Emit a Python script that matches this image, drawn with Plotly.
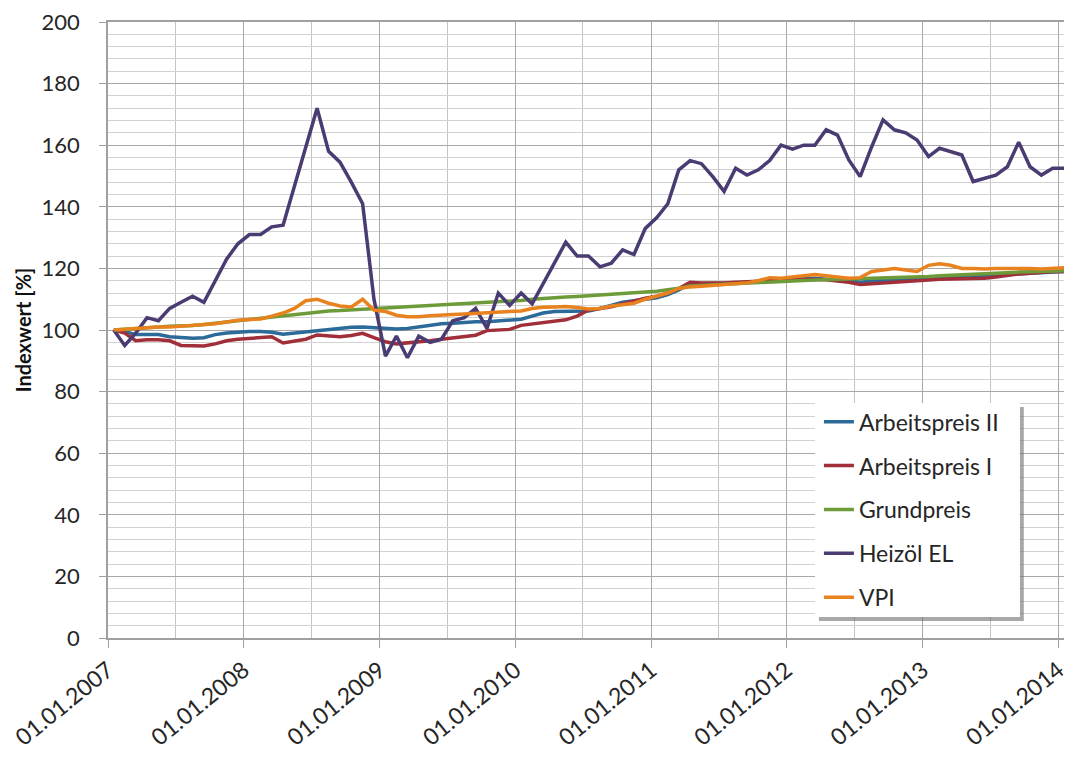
import pandas as pd
import plotly.graph_objects as go

months = pd.date_range("2007-01-01", "2014-01-01", freq="MS").strftime("%Y-%m-%d").tolist()

arbeitspreis_2 = [100, 99.5, 98.5, 98.5, 98.5, 97.8, 97.5, 97.3, 97.5, 98.5, 99, 99.3,
                  99.5, 99.5, 99.3, 98.6, 99, 99.5, 99.8, 100.2, 100.5, 100.9, 101, 100.8,
                  100.5, 100.3, 100.5, 101, 101.5, 102, 102.2, 102.5, 102.7, 102.7, 103, 103.2,
                  103.5, 104.5, 105.5, 106, 106, 106, 106.2, 107, 108, 109, 109.5, 110,
                  110.5, 111.5, 113, 115, 115, 115, 115.2, 115.3, 115.5, 115.7, 116, 116.3,
                  116.3, 116.5, 116.8, 116.5, 116.3, 116, 115.5, 115.8, 116.2, 116.5, 116.5, 116.8,
                  117, 117.2, 117.3, 117.3, 117.5, 117.6, 117.8, 118, 118.2, 118.3, 118.6, 118.8,
                  119]
arbeitspreis_1 = [100, 99, 96.5, 96.8, 96.8, 96.5, 95, 94.8, 94.8, 95.5, 96.5, 97,
                  97.3, 97.5, 97.8, 95.8, 96.3, 97, 98.4, 98, 97.8, 98.2, 98.9, 97.5,
                  96.2, 95.5, 95.8, 96, 96.5, 97, 97.5, 97.8, 98.3, 99.8, 100, 100.2,
                  101.5, 102, 102.5, 103, 103.3, 104.5, 106.5, 107, 107.5, 108.5, 109.5, 110.3,
                  111, 112, 113.5, 115.5, 115.3, 115.2, 115.3, 115.5, 115.6, 115.8, 116, 116.2,
                  116.3, 116.5, 116.5, 116.3, 116, 115.5, 114.8, 115, 115.2, 115.6, 115.8, 116,
                  116.2, 116.5, 116.6, 116.7, 116.8, 116.8, 117.2, 117.8, 118.2, 118.4, 118.7, 119,
                  119]
grundpreis = [100, 100.3, 100.6, 100.8, 101, 101.2, 101.3, 101.5, 101.8, 102.2, 102.6, 103,
              103.4, 103.8, 104.2, 104.7, 105.2, 105.6, 106, 106.2, 106.3, 106.5, 106.7, 106.8,
              107, 107.2, 107.4, 107.6, 107.8, 108, 108.2, 108.4, 108.6, 108.8, 109, 109.2,
              109.6, 110, 110.3, 110.5, 110.7, 110.9, 111.1, 111.3, 111.6, 111.8, 112, 112.3,
              112.6, 113, 113.6, 114.3, 114.5, 114.6, 114.8, 115, 115.2, 115.4, 115.6, 115.8,
              116, 116.1, 116.2, 116.3, 116.4, 116.5, 116.6, 116.7, 116.8, 117, 117.1, 117.2,
              117.4, 117.6, 117.8, 118, 118.2, 118.4, 118.5, 118.6, 118.8, 118.9, 119, 119.1,
              119.2]
heizoel_el = [100, 95, 99, 104, 103, 107, 109, 111, 109, 116, 123, 128,
              131, 131, 133.5, 134, 147, 160, 172, 158, 154.5, 148, 141, 110,
              91.5, 98, 91, 98, 96, 97, 103, 104, 107, 100.5, 112, 108,
              112, 108.5, 115, 121.5, 128.5, 124, 124, 120.5, 121.7, 126, 124.5, 133,
              136.5, 141, 152, 155, 154, 149.8, 145, 152.5, 150.3, 152, 155, 160,
              158.7, 160, 160, 165, 163.3, 155.2, 149.8, 159.5, 168.2, 165, 164, 161.7,
              156.3, 159, 158, 156.8, 148.2, 149.2, 150.3, 153, 161, 153, 150.3, 152.5,
              152.5]
vpi = [100, 100.3, 100.6, 100.8, 101, 101, 101.2, 101.5, 101.6, 102, 102.6, 103.2,
       103.4, 103.6, 104.5, 105.5, 107, 109.5, 110, 108.7, 107.8, 107.5, 110, 106.5,
       106, 104.8, 104.3, 104.3, 104.6, 104.9, 105, 105.2, 105.4, 105.6, 105.8, 106,
       106.2, 107, 107.4, 107.5, 107.6, 107.3, 106.8, 107, 107.8, 108.2, 108.7, 110,
       111, 112, 113.5, 114, 114.2, 114.5, 114.8, 115, 115.3, 116, 117, 116.8,
       117.2, 117.5, 118, 117.6, 117.2, 116.8, 117, 119, 119.5, 120, 119.5, 119,
       121, 121.5, 121, 120, 120, 119.8, 120, 120, 120.2, 120, 119.8, 120,
       120.2]

series = [
    ("Arbeitspreis II", arbeitspreis_2, "#2C6A99"),
    ("Arbeitspreis I", arbeitspreis_1, "#A02F3A"),
    ("Grundpreis", grundpreis, "#6E9B3A"),
    ("Heizöl EL", heizoel_el, "#4A3C72"),
    ("VPI", vpi, "#E8821E"),
]

FONT = "Lato, 'Open Sans', sans-serif"
TXT = "#262626"

fig = go.Figure()
for i, (name, vals, col) in enumerate(series):
    fig.add_trace(go.Scatter(
        x=months, y=vals, name=name, mode="lines",
        xperiod="M1", xperiodalignment="middle",
        line=dict(color=col, width=3.5),
        legendgroup=f"g{i}",
    ))

fig.update_layout(
    width=1064, height=746,
    margin=dict(l=100, r=2, t=14, b=116),
    paper_bgcolor="white", plot_bgcolor="white",
    font=dict(family=FONT, color=TXT, size=20),
    showlegend=True,
    legend=dict(
        x=0.739, y=0.386, xanchor="left", yanchor="top",
        bgcolor="rgba(0,0,0,0)", borderwidth=0,
        font=dict(family=FONT, size=23, color=TXT),
        tracegroupgap=11,
        itemwidth=30,
    ),
    shapes=[
        dict(type="rect", xref="paper", yref="paper",
             x0=0.739, x1=0.952, y0=0.0276, y1=0.375,
             fillcolor="rgba(110,110,110,0.6)", line=dict(width=0), layer="above"),
        dict(type="rect", xref="paper", yref="paper",
             x0=0.735, x1=0.948, y0=0.034, y1=0.3815,
             fillcolor="white", line=dict(width=0), layer="above"),
    ],
    annotations=[dict(
        text="<b>Indexwert [%]</b>", textangle=-90,
        xref="paper", yref="paper", x=-0.088, y=0.5,
        xanchor="center", yanchor="middle", showarrow=False,
        font=dict(size=20, family=FONT, color="#111111"),
    )],
)

fig.update_xaxes(
    type="date",
    range=["2007-01-01", "2014-02-01"],
    tick0="2007-01-01", dtick="M12",
    tickformat="%d.%m.%Y", tickangle=-39,
    tickfont=dict(size=23, family=FONT, color=TXT),
    ticklabeloverflow="allow",
    showgrid=True, gridcolor="#A8A8A8", gridwidth=1,
    minor=dict(dtick="M6", showgrid=True, gridcolor="#C4C4C4", gridwidth=1),
    ticks="outside", ticklen=8, tickcolor="#A0A0A0",
    showline=True, linecolor="#A0A0A0", linewidth=1.5, mirror=True,
    zeroline=False, automargin=False,
)
fig.update_yaxes(
    range=[0, 200], dtick=20, tick0=0,
    tickfont=dict(size=22, family=FONT, color=TXT),
    ticklabeloverflow="allow",
    showgrid=True, gridcolor="#A8A8A8", gridwidth=1.2,
    minor=dict(dtick=4, showgrid=True, gridcolor="#D2D2D2", gridwidth=1),
    ticks="outside", ticklen=7, tickcolor="#A0A0A0",
    ticklabelstandoff=15,
    showline=True, linecolor="#A0A0A0", linewidth=1.5, mirror=True,
    zeroline=False, automargin=False,
)

fig.write_html("out.html")
